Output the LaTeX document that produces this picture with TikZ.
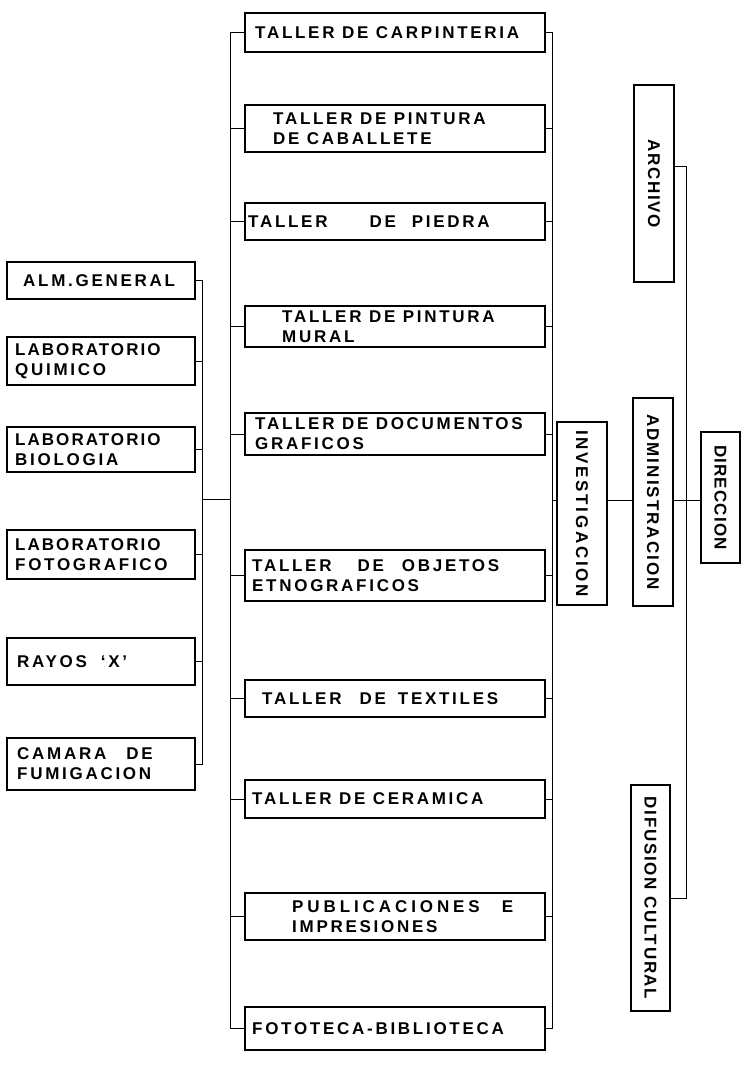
\documentclass[tikz,border=0pt]{standalone}
\usepackage{fontspec}
\newfontfamily\tw{Liberation Sans}[LetterSpace=16]
\begin{document}
\begin{tikzpicture}[x=1pt,y=-1pt,
  box/.style={draw=black, line width=1.1pt, inner sep=0pt, outer sep=0pt, anchor=north west},
  conn/.style={draw=black, line width=1pt},
  lbl/.style={font=\tw\bfseries\fontsize{17}{20}\selectfont, inner sep=0pt, align=left, anchor=west},
  vlbl/.style={font=\tw\bfseries\fontsize{17}{20}\selectfont, inner sep=0pt, rotate=-90, anchor=center}]
\fill[white] (0,0) rectangle (742,1069);
\useasboundingbox (0,0) rectangle (742,1069);
% bus coordinates
\coordinate (lb) at (202,0);
\coordinate (cl) at (230,0);
\coordinate (cr) at (552,0);
\coordinate (ra) at (686,166);
\coordinate (lj) at (202,499);
\coordinate (rj) at (552,500);
% left column
\node[box, minimum width=188pt, minimum height=37pt] (alm) at (7,262) {};
\node[box, minimum width=188pt, minimum height=48pt] (quim) at (7,337) {};
\node[box, minimum width=188pt, minimum height=45pt] (bio) at (7,427) {};
\node[box, minimum width=188pt, minimum height=49pt] (foto) at (7,530) {};
\node[box, minimum width=188pt, minimum height=47pt] (ray) at (7,638) {};
\node[box, minimum width=188pt, minimum height=52pt] (cam) at (7,738) {};
\node[lbl, xshift=16pt] (almT) at (alm.west) {ALM.GENERAL};
\node[lbl, xshift=8pt] (quimT) at (quim.west) {\addfontfeature{LetterSpace=12}LABORATORIO\\QUIMICO};
\node[lbl, xshift=8pt] (bioT) at (bio.west) {\addfontfeature{LetterSpace=12}LABORATORIO\\BIOLOGIA};
\node[lbl, xshift=8pt] (fotoT) at (foto.west) {\addfontfeature{LetterSpace=12}LABORATORIO\\FOTOGRAFICO};
\node[lbl, xshift=10pt] (rayT) at (ray.west) {RAYOS\hspace{14pt}‘X’};
\node[lbl, xshift=10pt] (camT) at (cam.west) {CAMARA\hspace{20pt}DE\\FUMIGACION};
% central column
\node[box, minimum width=300pt, minimum height=39pt] (carp) at (245,13) {};
\node[box, minimum width=300pt, minimum height=47pt] (cab) at (245,105) {};
\node[box, minimum width=300pt, minimum height=37pt] (pied) at (245,203) {};
\node[box, minimum width=300pt, minimum height=41pt] (mural) at (245,306) {};
\node[box, minimum width=300pt, minimum height=42pt] (docs) at (245,413) {};
\node[box, minimum width=300pt, minimum height=51pt] (obj) at (245,550) {};
\node[box, minimum width=300pt, minimum height=37pt] (tex) at (245,680) {};
\node[box, minimum width=300pt, minimum height=38pt] (cer) at (245,780) {};
\node[box, minimum width=300pt, minimum height=47pt] (pub) at (245,893) {};
\node[box, minimum width=300pt, minimum height=43pt] (fotot) at (245,1007) {};
\node[lbl, xshift=10pt] (carpT) at (carp.west) {TALLER DE CARPINTERIA};
\node[lbl, xshift=28pt] (cabT) at (cab.west) {TALLER DE PINTURA\\DE CABALLETE};
\node[lbl, xshift=3pt] (piedT) at (pied.west) {TALLER\hspace{42pt}DE\hspace{16pt}PIEDRA};
\node[lbl, xshift=37pt] (muralT) at (mural.west) {TALLER DE PINTURA\\MURAL};
\node[lbl, xshift=10pt] (docsT) at (docs.west) {TALLER DE DOCUMENTOS\\GRAFICOS};
\node[lbl, xshift=7pt] (objT) at (obj.west) {TALLER\hspace{26pt}DE\hspace{18pt}OBJETOS\\ETNOGRAFICOS};
\node[lbl, xshift=17pt] (texT) at (tex.west) {TALLER\hspace{18pt}DE\hspace{12pt}TEXTILES};
\node[lbl, xshift=7pt] (cerT) at (cer.west) {TALLER DE CERAMICA};
\node[lbl, xshift=47pt] (pubT) at (pub.west) {\addfontfeature{LetterSpace=23}PUBLICACIONES\hspace{22pt}E\\IMPRESIONES};
\node[lbl, xshift=7pt] (fototT) at (fotot.west) {FOTOTECA-BIBLIOTECA};
% right side
\node[box, minimum width=50pt, minimum height=183pt] (inv) at (557,422) {};
\node[box, minimum width=40pt, minimum height=197pt] (arch) at (634,85) {};
\node[box, minimum width=40pt, minimum height=208pt] (adm) at (633,398) {};
\node[box, minimum width=39pt, minimum height=226pt] (dif) at (631,785) {};
\node[box, minimum width=39pt, minimum height=131pt] (dir) at (701,432) {};
\node[vlbl] (invT) at (inv.center) {\addfontfeature{LetterSpace=16}INVESTIGACION};
\node[vlbl] (archT) at (arch.center) {\addfontfeature{LetterSpace=10}ARCHIVO};
\node[vlbl] (admT) at (adm.center) {\addfontfeature{LetterSpace=12}ADMINISTRACION};
\node[vlbl] (difT) at (dif.center) {\addfontfeature{LetterSpace=10}DIFUSION CULTURAL};
\node[vlbl] (dirT) at (dir.center) {\addfontfeature{LetterSpace=7}DIRECCION};
% connectors: left column
\draw[conn] (alm.east) -- (alm.east -| lb) -- (cam.east -| lb) -- (cam.east);
\foreach \n in {quim,bio,foto,ray} \draw[conn] (\n.east) -- (\n.east -| lb);
\draw[conn] (lj) -- (lj -| cl);
% connectors: central column
\draw[conn] (carp.west) -- (carp.west -| cl) -- (fotot.west -| cl) -- (fotot.west);
\foreach \n in {cab,pied,mural,docs,obj,tex,cer,pub} \draw[conn] (\n.west) -- (\n.west -| cl);
\draw[conn] (carp.east) -- (carp.east -| cr) -- (fotot.east -| cr) -- (fotot.east);
\foreach \n in {cab,pied,mural,docs,obj,tex,cer,pub} \draw[conn] (\n.east) -- (\n.east -| cr);
% connectors: right side
\draw[conn] (rj) -- (rj -| inv.west);
\draw[conn] (inv.east |- rj) -- (adm.west |- rj);
\draw[conn] (adm.east |- rj) -- (dir.west |- rj);
\draw[conn] (arch.east |- ra) -- (ra) -- (ra |- dif.east) -- (dif.east);
\end{tikzpicture}
\end{document}
